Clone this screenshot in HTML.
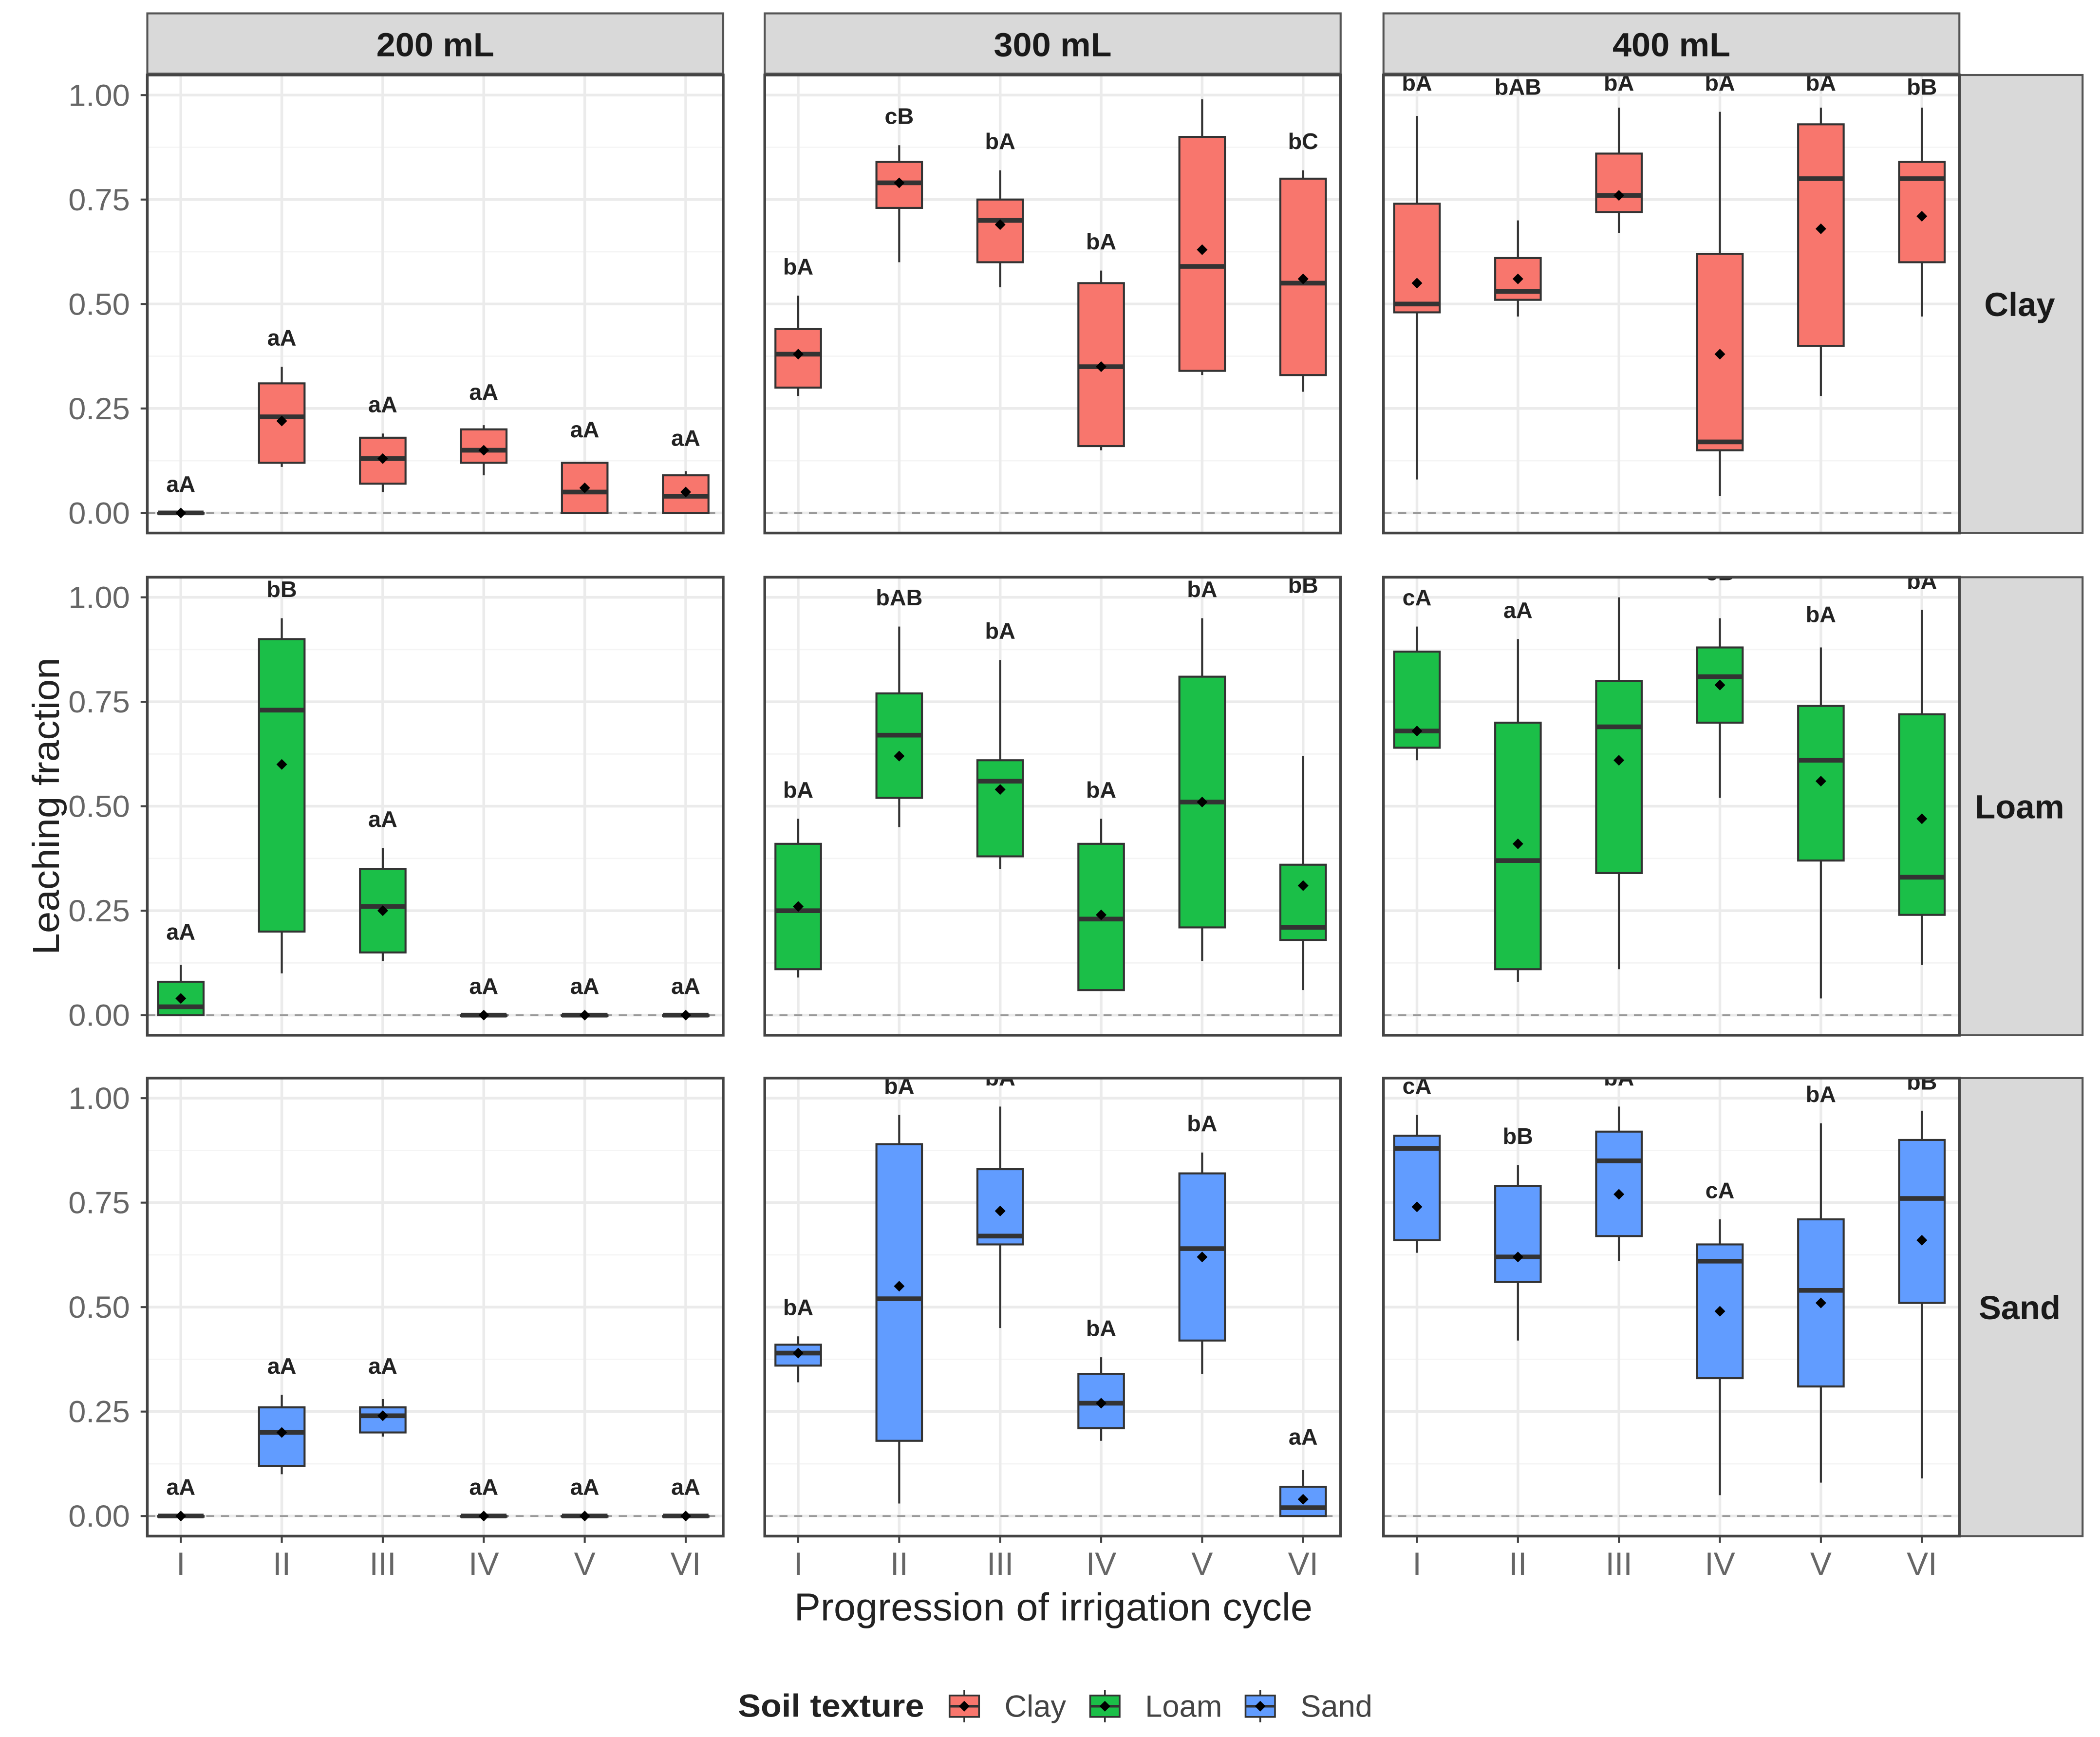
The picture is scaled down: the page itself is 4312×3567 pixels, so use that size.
<!DOCTYPE html>
<html><head><meta charset="utf-8"><style>
html,body{margin:0;padding:0;background:#fff;}
svg{display:block;font-family:"Liberation Sans",Arial,sans-serif;}
</style></head><body>
<svg id="chart" width="4312" height="3567" viewBox="0 0 1568 1297" preserveAspectRatio="none" xmlns="http://www.w3.org/2000/svg">
<rect width="1568" height="1297" fill="#fff"/>
<g id="root"></g>
</svg>
<script>
const categories = ["I","II","III","IV","V","VI"];
const volumes = ["200 mL","300 mL","400 mL"];
const soils = ["Clay","Loam","Sand"];
const yTicks = [0,0.25,0.5,0.75,1];
const yTickLabels = ["0.00","0.25","0.50","0.75","1.00"];
// each box: [whiskerLow, q1, median, q3, whiskerHigh, mean]
const clay200 = [[0,0,0,0,0,0],[.11,.12,.23,.31,.35,.22],[.05,.07,.13,.18,.19,.13],[.09,.12,.15,.20,.21,.15],[0,0,.05,.12,.12,.06],[0,0,.04,.09,.10,.05]];
const clay200Lab = ["aA","aA","aA","aA","aA","aA"];
const clay200LabY = [.07,.42,.26,.29,.20,.18];
const clay300 = [[.28,.30,.38,.44,.52,.38],[.60,.73,.79,.84,.88,.79],[.54,.60,.70,.75,.82,.69],[.15,.16,.35,.55,.58,.35],[.33,.34,.59,.90,.99,.63],[.29,.33,.55,.80,.82,.56]];
const clay300Lab = ["bA","cB","bA","bA","bA","bC"];
const clay300LabY = [.59,.95,.89,.65,1.08,.89];
const clay400 = [[.08,.48,.50,.74,.95,.55],[.47,.51,.53,.61,.70,.56],[.67,.72,.76,.86,.97,.76],[.04,.15,.17,.62,.96,.38],[.28,.40,.80,.93,.97,.68],[.47,.60,.80,.84,.97,.71]];
const clay400Lab = ["bA","bAB","bA","bA","bA","bB"];
const clay400LabY = [1.03,1.02,1.03,1.03,1.03,1.02];
const loam200 = [[0,0,.02,.08,.12,.04],[.10,.20,.73,.90,.95,.60],[.13,.15,.26,.35,.40,.25],[0,0,0,0,0,0],[0,0,0,0,0,0],[0,0,0,0,0,0]];
const loam200Lab = ["aA","bB","aA","aA","aA","aA"];
const loam200LabY = [.20,1.02,.47,.07,.07,.07];
const loam300 = [[.09,.11,.25,.41,.47,.26],[.45,.52,.67,.77,.93,.62],[.35,.38,.56,.61,.85,.54],[.06,.06,.23,.41,.47,.24],[.13,.21,.51,.81,.95,.51],[.06,.18,.21,.36,.62,.31]];
const loam300Lab = ["bA","bAB","bA","bA","bA","bB"];
const loam300LabY = [.54,1.0,.92,.54,1.02,1.03];
const loam400 = [[.61,.64,.68,.87,.93,.68],[.08,.11,.37,.70,.90,.41],[.11,.34,.69,.80,1.0,.61],[.52,.70,.81,.88,.95,.79],[.04,.37,.61,.74,.88,.56],[.12,.24,.33,.72,.97,.47]];
const loam400Lab = ["cA","aA","bA","cB","bA","bA"];
const loam400LabY = [1.0,.97,1.07,1.06,.96,1.04];
const sand200 = [[0,0,0,0,0,0],[.10,.12,.20,.26,.29,.20],[.19,.20,.24,.26,.28,.24],[0,0,0,0,0,0],[0,0,0,0,0,0],[0,0,0,0,0,0]];
const sand200Lab = ["aA","aA","aA","aA","aA","aA"];
const sand200LabY = [.07,.36,.36,.07,.07,.07];
const sand300 = [[.32,.36,.39,.41,.43,.39],[.03,.18,.52,.89,.96,.55],[.45,.65,.67,.83,.98,.73],[.18,.21,.27,.34,.38,.27],[.34,.42,.64,.82,.87,.62],[0,0,.02,.07,.11,.04]];
const sand300Lab = ["bA","bA","bA","bA","bA","aA"];
const sand300LabY = [.50,1.03,1.05,.45,.94,.19];
const sand400 = [[.63,.66,.88,.91,.96,.74],[.42,.56,.62,.79,.84,.62],[.61,.67,.85,.92,.98,.77],[.05,.33,.61,.65,.71,.49],[.08,.31,.54,.71,.94,.51],[.09,.51,.76,.90,.97,.66]];
const sand400Lab = ["cA","bB","bA","cA","bA","bB"];
const sand400LabY = [1.03,.91,1.05,.78,1.01,1.04];

const panels = [
 [[clay200,clay200Lab,clay200LabY],[clay300,clay300Lab,clay300LabY],[clay400,clay400Lab,clay400LabY]],
 [[loam200,loam200Lab,loam200LabY],[loam300,loam300Lab,loam300LabY],[loam400,loam400Lab,loam400LabY]],
 [[sand200,sand200Lab,sand200LabY],[sand300,sand300Lab,sand300LabY],[sand400,sand400Lab,sand400LabY]]
];
const colors = ["#F8766D","#1BBF48","#619CFF"];
const NS="http://www.w3.org/2000/svg";
const root=document.getElementById('root');
function mk(tag,attrs,parent,text){const e=document.createElementNS(NS,tag);for(const k in attrs)e.setAttribute(k,attrs[k]);if(text!==undefined)e.textContent=text;(parent||root).appendChild(e);return e;}
const colX=[110,571,1033], pw=430;
const rowY=[56,431,805], ph=342;
function yScale(r,v){return rowY[r]+15+(1-v)*312;}
function xScale(c,i){return colX[c]+25+i*75.4;}

volumes.forEach((v,c)=>{
 const g=mk('g',{});
 
 
 mk('rect',{x:colX[c],y:10,width:pw,height:45,fill:'#d9d9d9',stroke:'#555','stroke-width':1.5},g);
 mk('text',{x:colX[c]+pw/2-44,y:42,'font-size':25,'font-weight':'bold',fill:'#1a1a1a',textLength:88,lengthAdjust:'spacingAndGlyphs'},g,v);
});
soils.forEach((s,r)=>{
 const g=mk('g',{});
 
 
 mk('rect',{x:1463,y:rowY[r],width:92,height:ph,fill:'#d9d9d9',stroke:'#555','stroke-width':1.5},g);
 mk('text',{x:1508,y:rowY[r]+ph/2+9,'text-anchor':'middle','font-size':25,'font-weight':'bold',fill:'#1a1a1a'},g,s);
});

for(let r=0;r<3;r++){for(let c=0;c<3;c++){
 const g=mk('g',{});
 
 
 const cid='clip'+r+c;
 const cp=mk('clipPath',{id:cid},g);mk('rect',{x:colX[c],y:rowY[r],width:pw,height:ph},cp);
 const inner=mk('g',{'clip-path':'url(#'+cid+')'},g);
 for(let k=0;k<4;k++){const v=0.125+k*0.25;mk('line',{x1:colX[c],x2:colX[c]+pw,y1:yScale(r,v),y2:yScale(r,v),stroke:'#f4f4f4','stroke-width':1},inner);}
 yTicks.forEach(v=>mk('line',{x1:colX[c],x2:colX[c]+pw,y1:yScale(r,v),y2:yScale(r,v),stroke:'#ebebeb','stroke-width':2},inner));
 categories.forEach((_,i)=>mk('line',{x1:xScale(c,i),x2:xScale(c,i),y1:rowY[r],y2:rowY[r]+ph,stroke:'#ebebeb','stroke-width':2},inner));
 mk('line',{x1:colX[c],x2:colX[c]+pw,y1:yScale(r,0),y2:yScale(r,0),stroke:'#999','stroke-width':1.3,'stroke-dasharray':'6,5'},inner);
 const [data,labs,labY]=panels[r][c];
 data.forEach((d,i)=>{
  const bg=mk('g',{},inner);
  
  
  const x=xScale(c,i), w=34;
  mk('line',{x1:x,x2:x,y1:yScale(r,d[0]),y2:yScale(r,d[4]),stroke:'#333','stroke-width':1.5},bg);
  mk('rect',{x:x-w/2,y:yScale(r,d[3]),width:w,height:Math.max(yScale(r,d[1])-yScale(r,d[3]),0.5),fill:colors[r],stroke:'#333','stroke-width':1.5},bg);
  mk('line',{x1:x-w/2,x2:x+w/2,y1:yScale(r,d[2]),y2:yScale(r,d[2]),stroke:'#333','stroke-width':3.5},bg);
  mk('path',{d:`M${x} ${yScale(r,d[5])-4}l4 4l-4 4l-4 -4z`,fill:'#000'},bg);
  mk('text',{x:x,y:yScale(r,labY[i])+6,'text-anchor':'middle','font-size':17,'font-weight':'bold',fill:'#222'},bg,labs[i]);
 });
 mk('rect',{x:colX[c],y:rowY[r],width:pw,height:ph,fill:'none',stroke:'#444','stroke-width':2},g);
 if(c===0){yTicks.forEach((v,k)=>{mk('line',{x1:colX[c]-5,x2:colX[c],y1:yScale(r,v),y2:yScale(r,v),stroke:'#444','stroke-width':1.5},g);
  mk('text',{x:colX[c]-59,y:yScale(r,v)+8,'font-size':23,fill:'#666',textLength:46,lengthAdjust:'spacingAndGlyphs'},g,yTickLabels[k]);});}
 if(r===2){categories.forEach((cat,i)=>{mk('line',{x1:xScale(c,i),x2:xScale(c,i),y1:rowY[r]+ph,y2:rowY[r]+ph+5,stroke:'#444','stroke-width':1.5},g);
  mk('text',{x:xScale(c,i),y:rowY[r]+ph+29,'text-anchor':'middle','font-size':24,fill:'#666'},g,cat);});}
}}
const yt=mk('text',{x:36,y:610,'font-size':28,fill:'#222',transform:'rotate(-90 36 602)',textLength:222,lengthAdjust:'spacingAndGlyphs'},root,'Leaching fraction');
yt.setAttribute('x',36-111);

const xt=mk('text',{x:593,y:1210,'font-size':29,fill:'#222',textLength:387,lengthAdjust:'spacingAndGlyphs'},root,'Progression of irrigation cycle');

const lg=mk('g',{});
mk('text',{x:551,y:1282,'font-size':24,'font-weight':'bold',fill:'#222',textLength:139,lengthAdjust:'spacingAndGlyphs'},lg,'Soil texture');
const lx=[706,811,927];
soils.forEach((s,k)=>{const e=mk('g',{},lg);
 
 mk('line',{x1:lx[k]+14,x2:lx[k]+14,y1:1262,y2:1286,stroke:'#333','stroke-width':1.3},e);
 mk('rect',{x:lx[k]+3,y:1266,width:22,height:16,fill:colors[k],stroke:'#333','stroke-width':1.3},e);
 mk('line',{x1:lx[k]+3,x2:lx[k]+25,y1:1274,y2:1274,stroke:'#333','stroke-width':2},e);
 mk('path',{d:`M${lx[k]+14} 1270l4 4l-4 4l-4 -4z`,fill:'#000'},e);
 mk('text',{x:lx[k]+44,y:1282,'font-size':23,fill:'#444'},e,s);});
</script>
</body></html>
